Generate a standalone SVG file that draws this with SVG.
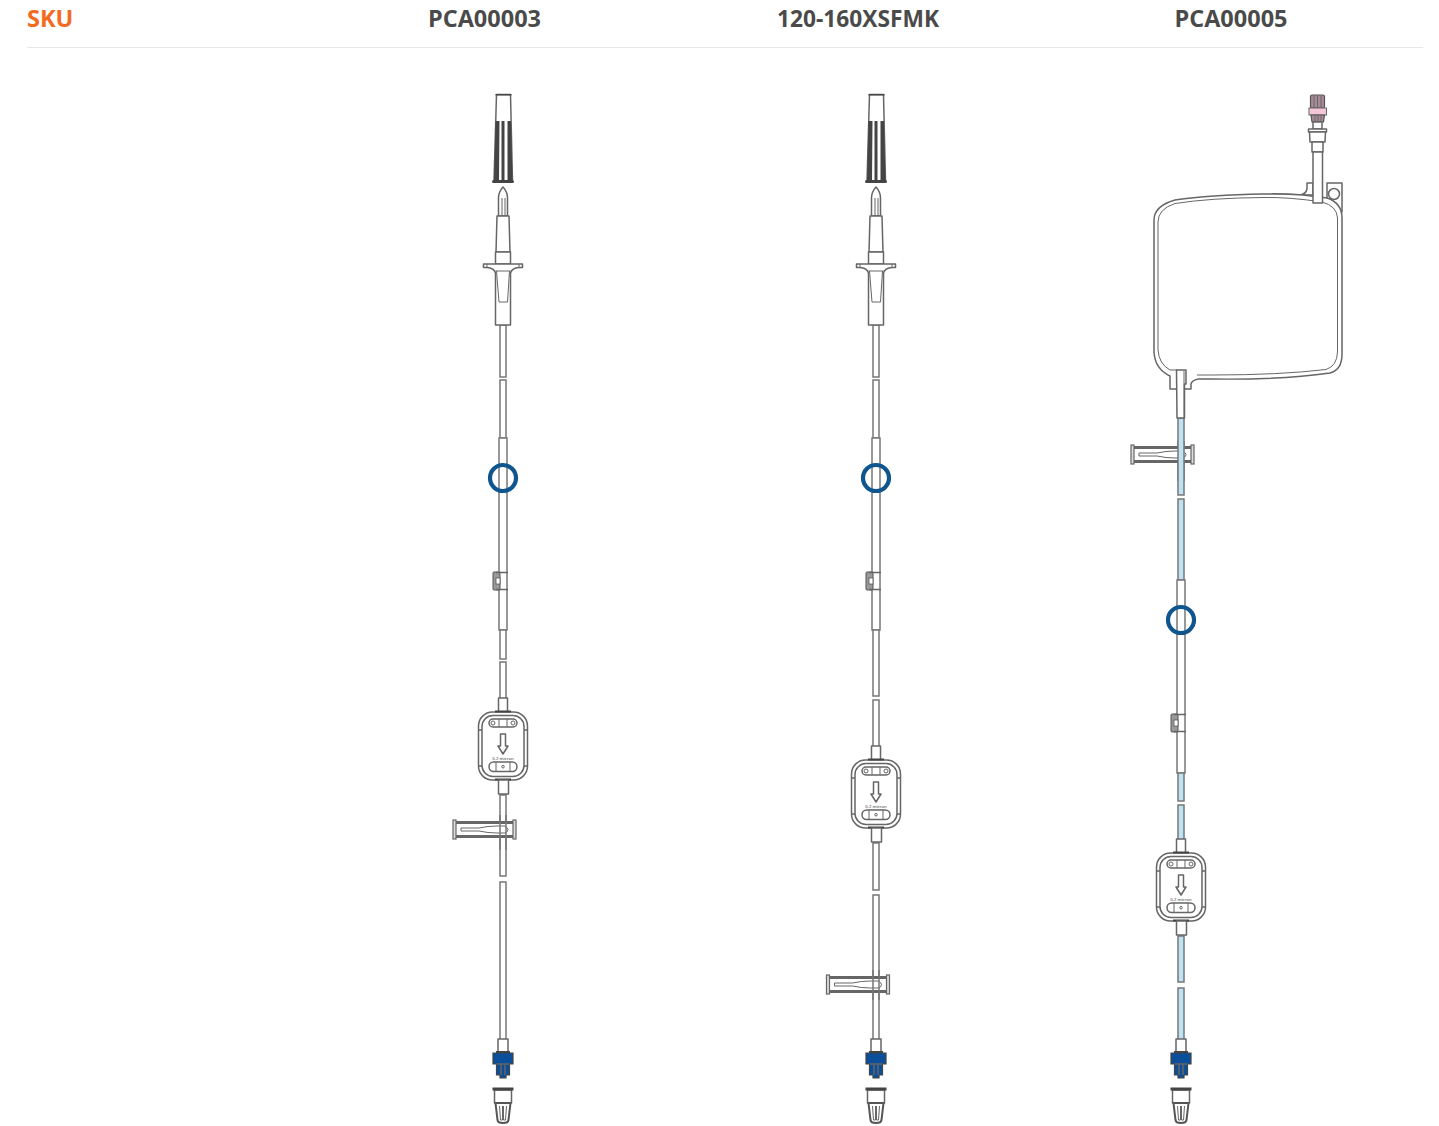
<svg xmlns="http://www.w3.org/2000/svg" width="1439" height="1126" viewBox="0 0 1439 1126">
<style>
text{font-family:"Open Sans","Noto Sans",sans-serif;font-weight:700;font-size:23.500px;fill:#4a4a4a}
.l{fill:#fff;stroke:#666;stroke-width:1.500;stroke-linejoin:round}
.n{fill:none;stroke:#666;stroke-width:1.500}
.f{fill:none;stroke:#666;stroke-width:1}
.d{fill:#444;stroke:none}
.t{fill:#fff;stroke:#777;stroke-width:1.500}
.o{fill:none;stroke:#777;stroke-width:1.500}
.b{fill:#bde3f2;stroke:#777;stroke-width:1.500}
.ring{fill:none;stroke:#0f568f;stroke-width:4.200}
.blue{fill:#0b4f9a;stroke:#444;stroke-width:1.200}
.g{fill:#ddd;stroke:#666;stroke-width:1.200}
.p{fill:#a98a98;stroke:#555;stroke-width:1.200}
</style>
<defs>
<g id="spike">
<path class="l" d="M-6.500 94.500H7.500L9.500 181H-9L-6.500 94.500Z"/>
<rect class="d" x="-7.500" y="94" width="16" height="1.500"/>
<path class="d" d="M-7.500 121H-3.500L-4 181H-9ZM-1.500 121H1.500V181H-1.500ZM4.500 121H8L9.500 181H4.500Z"/>
<rect class="d" x="-11" y="180" width="22" height="3" rx="1.500"/>
<path class="l" d="M-4.500 216V198Q-4.500 192 0 187Q4.500 192 4.500 198V216Z"/>
<path class="f" d="M-1 198V216M2 198V216"/>
<path class="l" d="M-6 216H6L7 252H-7Z"/>
<rect class="l" x="-7.500" y="252" width="15" height="12"/>
<path class="l" d="M-7.500 273V325H7.500V273Q9 268 16 267.500H19.500V264H-19.500V267.500H-16Q-9 268-7.500 273Z"/>
<path class="f" d="M-7.500 271H7.500"/>
<path class="f" d="M-6.500 271L-4 302H4.500L6.500 271"/>
<path class="f" d="M-19.500 264V268M-16 264V268M16 264V268M19.500 264V268"/>
</g>
<g id="filter">
<path class="l" d="M-4.500 -48H4.500V-33H-4.500Z"/>
<rect class="l" x="-24.500" y="-34" width="49" height="68" rx="14"/>
<rect class="l" x="-21" y="-30.500" width="42" height="61" rx="11"/>
<path class="n" d="M-24.500 -16H-21M24.500 -16H21M-24.500 20H-21M24.500 20H21"/>
<rect class="d" x="-8" y="-35.500" width="16" height="2"/>
<rect class="d" x="-8" y="32.500" width="16" height="2"/>
<rect class="l" x="-14" y="-27" width="28" height="8" rx="4"/>
<path class="f" d="M-4-27V-19M4-27V-19"/>
<circle class="f" cx="-10" cy="-23" r="2"/><circle class="f" cx="10" cy="-23" r="2"/>
<path class="l" d="M-2.500-12H2.500V0H5L0 8-5 0H-2.500Z"/>
<text x="0" y="13.500" text-anchor="middle" style="font-size:4.200px;font-weight:600;fill:#666">0.2 micron</text>
<rect class="l" x="-14" y="16" width="28" height="9.500" rx="4.700"/>
<path class="f" d="M-7 16V25.500M7 16V25.500"/>
<circle class="f" cx="0" cy="20.700" r="1.300"/>
<rect class="l" x="-4.500" y="34" width="10" height="14"/>
</g>
<g id="roller">
<rect x="0" y="2" width="62" height="15" fill="#fff"/>
<rect x="1" y="1" width="60" height="3" fill="#666"/>
<rect x="1" y="15" width="60" height="3" fill="#666"/>
<path class="f" d="M8 8H26Q35 6 44 6H52Q55 8 55 9.500Q55 12 52 13H44Q35 13 26 11H8Z"/>
<rect class="g" x="0" y="0" width="3" height="19"/>
<rect class="g" x="60" y="0" width="3" height="19"/>
</g>
<g id="slide">
<rect x="-10" y="-9" width="7" height="18" rx="1" fill="#999" stroke="#555"/>
<rect x="-7" y="-3" width="4" height="6" fill="#fff" stroke="#555" stroke-width=".8"/>
<path class="n" d="M-7 -8.500H5M-7 8.500H5"/>
</g>
<g id="end">
<rect class="l" x="-5" y="1039" width="10" height="13"/>
<rect class="d" x="-7" y="1051" width="14" height="2"/>
<path class="blue" d="M-10 1053H10V1064H6.500V1075H3V1078H-3V1075H-6.500V1064H-10Z"/>
<path class="n" d="M-6.500 1064H6.500M-2 1064V1075M2 1064V1075"/>
<path class="l" d="M-8.500 1090V1103H8.500V1090Z"/>
<rect class="d" x="-10.500" y="1087.500" width="21" height="3"/>
<path fill="#fff" stroke="#555" stroke-width="2" d="M-7.500 1103L-5.500 1120Q-5 1123 0 1123Q5 1123 5.500 1120L7.500 1103Z"/>
<path class="f" d="M-3.500 1106L-2.500 1120H-.5V1106M3.500 1106L2.500 1120H.5V1106"/>
</g>
</defs>
<g id="header">
<text x="27" y="27" style="fill:#f26b21">SKU</text>
<text x="484.500" y="27" text-anchor="middle">PCA00003</text>
<text x="858" y="27" text-anchor="middle" textLength="162" lengthAdjust="spacingAndGlyphs">120-160XSFMK</text>
<text x="1231" y="27" text-anchor="middle">PCA00005</text>
<line x1="27" y1="47.500" x2="1423" y2="47.500" stroke="#e8e8e8"/>
</g>
<g id="connectors">
<g id="tubes-1" transform="translate(503,0)">
<rect class="t" x="-3" y="325" width="6" height="52"/>
<rect class="t" x="-3" y="380" width="6" height="58"/>
<rect class="t" x="-4" y="438" width="8" height="192"/>
<rect class="t" x="-3" y="630" width="6" height="29"/>
<rect class="t" x="-3" y="662" width="6" height="37"/>
<rect class="t" x="-3" y="795" width="6" height="81"/>
<rect class="t" x="-3" y="882" width="6" height="158"/>
</g>
<g id="tubes-2" transform="translate(876,0)">
<rect class="t" x="-3" y="325" width="6" height="52"/>
<rect class="t" x="-3" y="380" width="6" height="58"/>
<rect class="t" x="-4" y="438" width="8" height="192"/>
<rect class="t" x="-3" y="630" width="6" height="66"/>
<rect class="t" x="-3" y="700" width="6" height="47"/>
<rect class="t" x="-3" y="843" width="6" height="47"/>
<rect class="t" x="-3" y="895" width="6" height="145"/>
</g>
<g id="tubes-3" transform="translate(1181,0)">
<rect class="b" x="-3" y="418" width="6" height="77"/>
<rect class="b" x="-3" y="499" width="6" height="81"/>
<rect class="t" x="-4" y="580" width="8" height="193"/>
<rect class="b" x="-3" y="773" width="6" height="28"/>
<rect class="b" x="-3" y="805" width="6" height="36"/>
<rect class="b" x="-3" y="936" width="6" height="46"/>
<rect class="b" x="-3" y="988" width="6" height="52"/>
</g>
</g>
<g id="set-pca00003">
<use href="#spike" x="503"/>
<use href="#slide" x="503" y="581"/>
<circle class="ring" cx="503" cy="478" r="13"/>
<use href="#filter" x="503" y="746"/>
<use href="#roller" x="453" y="820"/>
<path class="o" d="M500 815V850M506 815V850"/>
<use href="#end" x="503"/>
</g>
<g id="set-120-160xsfmk">
<use href="#spike" x="876"/>
<use href="#slide" x="876" y="581"/>
<circle class="ring" cx="876" cy="478" r="13"/>
<use href="#filter" x="876" y="794"/>
<use href="#roller" x="826.500" y="975"/>
<path class="o" d="M873 970V1000M879 970V1000"/>
<use href="#end" x="876"/>
</g>
<g id="set-pca00005">
<g id="luer">
<rect class="p" x="1310.500" y="95" width="14" height="13" rx="1.500"/>
<path class="f" d="M1314 96V108M1317.500 96V108M1321 96V108"/>
<rect x="1309" y="108" width="17.500" height="7" fill="#f5c6d8" stroke="#666"/>
<path class="p" d="M1311 115H1324.500L1323.500 122H1312Z"/>
<path class="f" d="M1315 115V122M1318 115V122M1321 115V122"/>
<rect class="l" x="1313" y="122" width="9" height="7"/>
<rect class="l" x="1308.500" y="129" width="18" height="3"/>
<path class="l" d="M1309.500 132H1325.500L1325 142H1310Z"/>
<path class="l" d="M1312 142H1323V152H1312Z"/>
</g>
<g id="bag">
<path class="l" d="M1327 183H1342V212L1327 200Z"/>
<circle class="n" cx="1334" cy="194" r="5.500"/>
<path class="l" d="M1313 183H1307V189Q1306 194 1300 195H1313Z"/>
<path class="l" d="M1175 200Q1210 195 1263 194Q1285 193.500 1303 195L1327 198Q1342 203 1342 218V354Q1342 370 1330 373Q1280 380 1212 379H1199Q1192 380 1191 384V389H1170V376Q1155 369 1154 352V220Q1154 206 1175 200Z"/>
<path class="f" d="M1175 203.500Q1210 198 1263 197.500Q1290 197 1322 202Q1337 206 1337.500 218V352Q1337 366 1326 369.500Q1280 375 1212 375H1197"/>
<path class="f" d="M1177 370H1170Q1159 364 1158 350V222Q1158 209 1175 203.500"/>
<path class="l" d="M1313 152H1322.500V203H1313Z"/>
<path class="l" d="M1176.500 370H1186V384H1184.500V418H1177Z"/>
<path class="f" d="M1184 371V418"/>
</g>
<use href="#roller" x="1131" y="445"/>
<rect x="1178" y="441" width="6" height="40" fill="#bde3f2"/>
<path class="o" d="M1178 441V481M1184 441V481"/>
<use href="#slide" x="1181" y="723"/>
<circle class="ring" cx="1181" cy="620" r="13"/>
<use href="#filter" x="1181" y="887"/>
<use href="#end" x="1181"/>
</g>
</svg>
